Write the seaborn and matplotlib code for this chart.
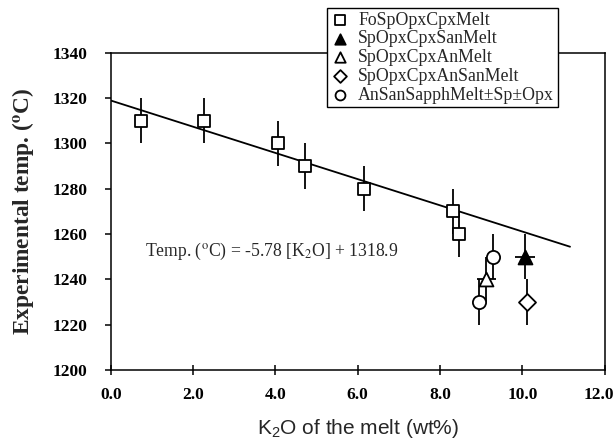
import matplotlib
matplotlib.use("Agg")
import matplotlib.pyplot as plt
import matplotlib.transforms as mtransforms
import seaborn as sns
import pandas as pd

sns.set_theme(style="ticks")
plt.rcParams["font.family"] = ["Liberation Serif", "DejaVu Serif"]
plt.rcParams["mathtext.fontset"] = "custom"
plt.rcParams["mathtext.rm"] = "Liberation Sans"
plt.rcParams["mathtext.it"] = "Liberation Sans:italic"
plt.rcParams["mathtext.bf"] = "Liberation Sans:bold"

# ---- data ----
phases = ["FoSpOpxCpxMelt", "SpOpxCpxSanMelt", "SpOpxCpxAnMelt",
          "SpOpxCpxAnSanMelt", "AnSanSapphMelt\u00b1Sp\u00b1Opx"]
point_phase = [0, 0, 0, 0, 0, 0, 0, 1, 2, 3, 4, 4]
k2o = [0.73, 2.27, 4.06, 4.72, 6.15, 8.32, 8.47, 10.07, 9.13, 10.11, 8.94, 9.28]
temp = [1310, 1310, 1300, 1290, 1280, 1270, 1260, 1250, 1240, 1230, 1230, 1250]
temp_err = [10, 10, 10, 10, 10, 10, 10, 10, 10, 10, 10, 10]
k2o_err = [0, 0, 0, 0, 0, 0, 0, 0.25, 0.22, 0, 0.15, 0.10]

fit_slope = -5.78
fit_intercept = 1318.9
fit_x = [0.0, 11.16]

x_ticks = [0, 2, 4, 6, 8, 10, 12]
y_ticks = [1200, 1220, 1240, 1260, 1280, 1300, 1320, 1340]

# ---- styles ----
markers = ["s", "^", "^", "D", "o"]
faces = ["white", "black", "white", "white", "white"]
sizes = [85, 100, 100, 75, 90]

df = pd.DataFrame({"k2o": k2o, "temp": temp, "terr": temp_err, "kerr": k2o_err,
                   "phase": [phases[i] for i in point_phase]})
fit_df = pd.DataFrame({"x": fit_x,
                       "y": [fit_slope * v + fit_intercept for v in fit_x]})

fig = plt.figure(figsize=(6.16, 4.43), dpi=100)
ax = fig.add_axes([110.8 / 616, 1 - 370 / 443, (604.6 - 110.8) / 616, (370 - 52.7) / 443])

sns.lineplot(data=fit_df, x="x", y="y", ax=ax, color="black", lw=1.3, zorder=2)

ax.errorbar(df["k2o"], df["temp"], yerr=df["terr"], xerr=df["kerr"], fmt="none",
            ecolor="black", elinewidth=1.3, capsize=0, zorder=3)

for i, ph in enumerate(phases):
    sub = df[df["phase"] == ph]
    sns.scatterplot(data=sub, x="k2o", y="temp", ax=ax, marker=markers[i],
                    color=faces[i], edgecolor="black", linewidth=1.3,
                    s=sizes[i], label=ph, zorder=4)

ax.set_xlim(0, 12)
ax.set_ylim(1200, 1340)
ax.set_xticks(x_ticks)
ax.set_xticklabels([f"{v:.1f}" for v in x_ticks], fontweight="bold", fontsize=12.5)
ax.set_yticks(y_ticks)
ax.set_yticklabels([str(v) for v in y_ticks], fontweight="bold", fontsize=12.5)
ax.tick_params(axis="x", direction="inout", length=7, width=1.1, pad=9, colors="black")
ax.tick_params(axis="y", direction="out", length=4.2, width=1.1, pad=12.5, colors="black")
for sp in ax.spines.values():
    sp.set_color("black")
    sp.set_linewidth(1.1)

# keep the last x tick label inside the figure
last = ax.get_xticklabels()[-1]
last.set_transform(last.get_transform() +
                   mtransforms.ScaledTranslation(-6 / 100, 0, fig.dpi_scale_trans))

ax.set_xlabel("K$_2$O of the melt (wt%)", fontsize=15, family="Liberation Sans",
              labelpad=10)
ax.set_ylabel("Experimental temp. ($^{\\mathbf{o}}$C)", fontsize=16.8,
              fontweight="bold", math_fontfamily="stix", labelpad=12)

ax.text(0.83, 1252.5, "Temp. ($^{\\mathrm{o}}$C) = -5.78 [K$_2$O] + 1318.9",
        fontsize=12.7, va="center", ha="left", math_fontfamily="stix")

leg = ax.legend(loc="upper left", bbox_to_anchor=(327 / 616, 1 - 8 / 443),
                bbox_transform=fig.transFigure, borderaxespad=0, frameon=True,
                fancybox=False, edgecolor="black", framealpha=1, fontsize=12.8,
                handletextpad=0.45, labelspacing=0.1, borderpad=0.2,
                handlelength=1.1, markerscale=0.75)
leg.get_frame().set_linewidth(1.0)
leg.set_zorder(10)

fig.savefig("out.png", dpi=100)
